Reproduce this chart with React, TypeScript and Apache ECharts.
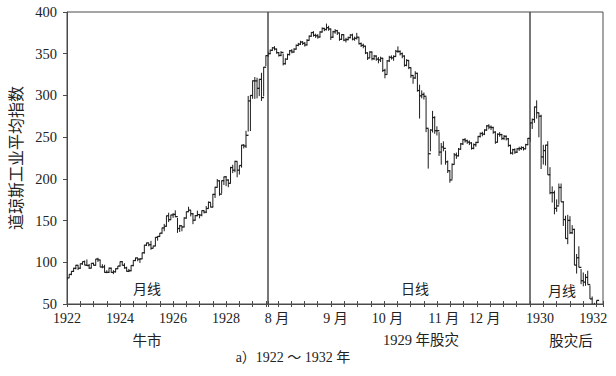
import React, { useEffect, useRef } from "react";
import * as echarts from "echarts";

// ---------- Monthly data, Jan 1922 – Jul 1929 (bull market) ----------
const leftStartYear = 1922;
const leftHigh = [
  82.0, 85.8, 89.5, 93.5, 96.9, 96.4, 98.6, 101.0, 102.1, 103.4, 98.0, 99.0,
  99.4, 104.0, 105.4, 103.0, 97.7, 97.0, 90.5, 93.7, 93.6, 90.5, 92.8, 95.6,
  101.0, 101.3, 98.9, 94.7, 92.1, 96.4, 102.4, 105.6, 105.0, 104.7, 111.7, 120.9,
  123.6, 122.9, 125.7, 120.0, 130.2, 131.3, 135.2, 141.6, 146.0, 156.0, 159.4, 157.0,
  158.9, 162.3, 153.1, 144.8, 143.3, 154.0, 160.9, 166.6, 162.5, 158.9, 156.6, 161.9,
  157.4, 162.2, 162.0, 167.4, 172.9, 171.0, 182.0, 190.6, 199.8, 198.3, 198.2, 202.8,
  203.4, 199.4, 214.5, 216.9, 221.7, 220.6, 216.4, 240.9, 241.7, 257.6, 299.4, 300.5,
  318.0, 322.1, 321.2, 319.8, 327.1, 334.2, 348.2,
];
const leftLow = [
  78.6, 81.7, 84.5, 88.5, 91.5, 90.7, 92.2, 97.0, 96.3, 95.5, 92.0, 92.9,
  96.0, 96.0, 100.5, 94.0, 92.8, 87.5, 86.9, 87.2, 87.4, 85.8, 87.9, 91.9,
  94.9, 96.0, 92.3, 88.7, 88.3, 89.2, 95.2, 101.5, 101.2, 99.2, 103.9, 110.4,
  119.5, 119.1, 115.0, 117.2, 119.3, 125.9, 130.8, 134.3, 137.2, 142.9, 148.2, 151.2,
  153.2, 154.0, 135.2, 136.3, 137.2, 141.9, 152.4, 160.4, 155.0, 145.7, 150.0, 155.3,
  152.7, 155.1, 158.5, 158.8, 164.4, 165.7, 165.8, 177.1, 189.8, 179.8, 182.5, 192.6,
  191.3, 190.0, 194.7, 206.9, 207.9, 201.9, 205.1, 213.4, 236.5, 237.0, 256.7, 257.3,
  296.0, 295.9, 296.5, 299.1, 293.4, 298.9, 335.2,
];
const leftClose = [
  81.3, 85.5, 89.1, 92.8, 96.4, 92.9, 98.2, 100.8, 96.6, 96.1, 93.0, 98.7,
  96.5, 103.9, 102.8, 94.4, 94.4, 87.9, 88.0, 92.9, 87.9, 88.6, 92.3, 95.5,
  100.7, 96.4, 93.3, 89.2, 89.9, 96.1, 102.1, 105.2, 103.7, 104.1, 111.4, 120.5,
  123.2, 121.0, 116.8, 119.5, 129.9, 131.0, 134.9, 141.2, 143.2, 155.7, 151.1, 156.7,
  157.4, 154.7, 140.5, 143.7, 142.3, 153.0, 160.6, 162.5, 158.2, 150.4, 155.9, 157.2,
  156.6, 161.9, 160.1, 164.5, 171.8, 166.2, 181.4, 189.8, 197.6, 181.7, 197.8, 202.4,
  198.6, 194.7, 213.5, 210.4, 220.9, 210.4, 216.0, 240.4, 239.4, 252.2, 293.4, 300.0,
  317.5, 317.4, 308.5, 319.3, 297.4, 333.8, 347.7,
];
const leftYearLabels = [1922, 1924, 1926, 1928];

// ---------- Daily data, Aug – Dec 1929 (trading days) ----------
const dailyHigh = [
  352.5, 355.0, 358.0, 359.0, 356.0, 352.0, 353.0, 350.0, 344.5, 350.0, 354.5, 355.5, 356.5, 361.0,
  363.0, 365.5, 365.0, 364.0, 367.5, 372.0, 376.0, 377.0, 374.0, 373.5, 377.0, 381.5, 381.0,
  386.1, 383.5, 380.0, 377.5, 379.5, 378.5, 375.0, 373.5, 373.0, 369.0, 370.5, 373.5, 374.0,
  370.5, 375.0, 369.5, 363.5, 362.0, 359.5, 351.5, 353.0, 352.5, 348.5, 348.0,
  346.0, 346.5, 345.0, 332.0, 342.5, 347.5, 348.0, 348.0, 354.5, 358.8, 354.0, 351.5, 348.0,
  343.5, 342.0, 333.0, 324.5, 329.0, 327.0, 312.8, 306.0, 303.5, 298.0, 260.0, 259.5, 281.5,
  275.0, 263.0, 256.0, 243.0, 245.0, 234.0, 222.0, 210.0, 218.5, 231.0, 231.5, 237.0, 243.0,
  248.0, 249.0, 247.0, 246.0, 244.0, 242.5,
  244.5, 251.5, 255.5, 256.5, 259.5, 264.5, 265.5, 264.0, 262.5, 257.0, 254.5, 256.0, 254.0,
  252.5, 252.0, 249.0, 241.0, 236.0, 236.5, 237.0, 238.5, 239.0, 238.5, 242.0, 249.0,
];
const dailyLow = [
  346.0, 349.5, 353.5, 354.0, 350.0, 346.5, 347.0, 336.0, 337.0, 343.0, 348.0, 350.5, 351.5, 355.0,
  359.0, 360.5, 360.5, 358.5, 360.0, 366.0, 370.5, 370.5, 369.0, 368.0, 369.5, 375.5, 377.0,
  378.0, 377.5, 366.5, 369.0, 374.0, 372.5, 365.5, 366.5, 365.0, 363.5, 366.0, 368.5, 366.0,
  365.5, 367.0, 361.0, 358.0, 356.5, 349.5, 342.5, 345.0, 342.0, 342.5, 341.5,
  338.5, 340.0, 328.0, 320.5, 326.0, 340.0, 343.0, 341.5, 346.5, 351.0, 348.0, 344.5, 334.5,
  335.0, 331.5, 321.0, 314.0, 320.0, 304.5, 272.3, 296.5, 295.0, 256.0, 212.3, 233.0, 255.5,
  254.0, 252.0, 227.5, 217.0, 233.0, 217.0, 207.0, 195.4, 199.5, 217.5, 224.0, 227.0, 235.0,
  240.5, 243.5, 242.0, 240.5, 235.0, 235.5,
  238.5, 243.0, 249.5, 251.0, 252.5, 257.5, 259.5, 258.5, 254.0, 242.0, 244.0, 250.5, 246.5,
  246.5, 246.0, 238.5, 229.5, 229.0, 230.0, 231.0, 233.5, 234.5, 234.0, 235.5, 240.5,
];
const dailyClose = [
  350.0, 354.1, 357.0, 355.6, 351.3, 348.0, 351.5, 338.0, 343.5, 349.0, 353.5, 352.0, 355.5, 360.0,
  361.5, 364.0, 362.5, 360.5, 366.0, 371.0, 375.4, 372.0, 371.5, 370.0, 376.0, 380.3, 379.0,
  381.2, 379.6, 369.8, 376.3, 377.6, 374.9, 367.3, 372.8, 366.3, 367.0, 369.3, 372.4, 367.5,
  368.5, 369.8, 362.1, 360.0, 359.0, 351.0, 344.9, 352.0, 344.0, 347.2, 343.5,
  342.6, 344.5, 330.0, 325.2, 341.4, 345.7, 345.0, 346.7, 352.9, 352.7, 350.0, 347.2, 336.1,
  341.9, 333.3, 323.9, 320.9, 326.5, 305.9, 299.5, 301.2, 299.0, 260.6, 230.1, 258.5, 273.5,
  257.7, 257.7, 232.1, 238.2, 236.5, 220.4, 209.7, 198.7, 217.3, 228.7, 227.6, 235.6, 241.9,
  247.0, 245.7, 244.0, 243.0, 236.6, 241.0,
  243.6, 250.8, 254.4, 253.6, 258.5, 263.5, 262.0, 261.5, 256.0, 243.9, 253.5, 253.0, 248.5,
  251.0, 248.0, 240.0, 230.9, 235.0, 232.0, 236.0, 236.4, 237.5, 236.0, 241.0, 248.5,
];
const monthStartIndex = [0, 27, 51, 77, 96];
const monthLabels = ["8 月", "9 月", "10 月", "11 月", "12 月"];

// ---------- Monthly data, Jan 1930 – Jul 1932 (after the crash) ----------
const rightStartYear = 1930;
const rightHigh = [
  267.7, 272.3, 286.6, 294.1, 279.2, 276.9, 240.8, 240.8, 245.1, 214.0, 191.0, 186.0,
  175.4, 194.4, 194.4, 173.2, 155.8, 156.9, 155.3, 144.5, 140.1, 109.9, 119.2, 92.0,
  87.8, 85.9, 89.9, 72.2, 59.0, 51.4, 54.3,
];
const rightLow = [
  244.2, 259.8, 267.1, 272.2, 249.8, 211.8, 217.2, 216.0, 204.9, 181.5, 171.6, 157.5,
  160.5, 169.1, 172.4, 143.6, 128.3, 121.7, 133.8, 133.8, 96.6, 86.5, 93.9, 73.8,
  71.2, 71.8, 73.3, 55.9, 44.7, 42.8, 41.2,
];
const rightClose = [
  267.1, 271.1, 286.1, 279.2, 275.1, 226.3, 233.9, 240.4, 204.9, 183.4, 183.4, 164.6,
  167.6, 189.7, 172.4, 151.2, 128.5, 150.2, 135.4, 139.4, 96.6, 105.4, 93.9, 77.9,
  76.2, 81.9, 73.3, 56.1, 44.7, 42.8, 54.3,
];
const rightYearLabels = [1930, 1932];

const yMin = 50;
const yMax = 400;
const yStep = 50;

const SERIF = "'Liberation Serif', 'Noto Sans CJK SC', serif";
const CJK = "'Noto Sans CJK SC', 'Liberation Serif', serif";
const INK = "#1c1c1c";
const FRAME = "#4a4a4a";

export default function App() {
  const ref = useRef<HTMLDivElement>(null);

  useEffect(() => {
    if (!ref.current) return;
    const chart = echarts.init(ref.current, null, { renderer: "svg" });

    const renderBar = (params: any, api: any) => {
      const x = api.value(0);
      const pH = api.coord([x, api.value(1)]);
      const pL = api.coord([x, api.value(2)]);
      const pC = api.coord([x, api.value(3)]);
      return {
        type: "group",
        children: [
          {
            type: "line",
            shape: { x1: pH[0], y1: pH[1], x2: pL[0], y2: pL[1] },
            style: { stroke: INK, lineWidth: 1 },
          },
          {
            type: "line",
            shape: { x1: pC[0], y1: pC[1], x2: pC[0] + 2.5, y2: pC[1] },
            style: { stroke: INK, lineWidth: 1.3 },
          },
        ],
      };
    };

    const leftData = leftClose.map((c, i) => [leftStartYear + i / 12, leftHigh[i], leftLow[i], c]);
    const dailyData = dailyClose.map((c, i) => [i, dailyHigh[i], dailyLow[i], c]);
    const rightData = rightClose.map((c, i) => [rightStartYear + i / 12, rightHigh[i], rightLow[i], c]);

    const dailyTicks: number[] = [];
    for (let k = 0; k < 19; k++) dailyTicks.push(4.6 + k * 6.125);

    const gridTop = 12;
    const gridHeight = 292;
    const grids = [
      { left: 67, width: 201 },
      { left: 268, width: 262 },
      { left: 530, width: 73 },
    ].map((g) => ({
      ...g,
      top: gridTop,
      height: gridHeight,
      show: true,
      borderColor: FRAME,
      borderWidth: 1,
      backgroundColor: "transparent",
    }));

    const labelStyle = { color: "#222", fontFamily: SERIF, fontSize: 14 };

    const outerAxis = (gridIndex: number, extra: any) => ({
      type: "value",
      gridIndex,
      position: "bottom",
      splitLine: { show: false },
      axisLine: { show: true, onZero: false, lineStyle: { color: FRAME, width: 1 } },
      axisTick: { show: true, inside: false, length: 3, lineStyle: { color: FRAME } },
      ...extra,
    });
    const innerAxis = (gridIndex: number, extra: any) => ({
      type: "value",
      gridIndex,
      position: "bottom",
      splitLine: { show: false },
      axisLine: { show: false },
      axisLabel: { show: false },
      ...extra,
    });

    const leftRange = { min: 1922, max: 1929.58, interval: 0.5 };
    const midRange = { min: 0, max: dailyClose.length };
    const rightRange = { min: 1930, max: 1932.74, interval: 0.5 };

    const option: any = {
      animation: false,
      grid: grids,
      xAxis: [
        outerAxis(0, {
          ...leftRange,
          axisLabel: {
            ...labelStyle,
            margin: 7,
            customValues: leftYearLabels,
            formatter: (v: number) => String(v),
          },
        }),
        innerAxis(0, {
          ...leftRange,
          axisTick: { show: true, inside: true, length: 3, lineStyle: { color: FRAME } },
        }),
        outerAxis(1, {
          ...midRange,
          axisTick: { show: true, inside: false, length: 3, customValues: dailyTicks, lineStyle: { color: FRAME } },
          axisLabel: {
            ...labelStyle,
            margin: 7,
            padding: [0, 0, 0, 18],
            customValues: monthStartIndex,
            formatter: (v: number) => monthLabels[monthStartIndex.indexOf(v)] ?? "",
          },
        }),
        innerAxis(1, {
          ...midRange,
          axisTick: { show: true, inside: true, length: 3, customValues: dailyTicks, lineStyle: { color: FRAME } },
        }),
        outerAxis(2, {
          ...rightRange,
          axisLabel: {
            ...labelStyle,
            margin: 7,
            padding: [0, 0, 0, 20],
            customValues: rightYearLabels,
            formatter: (v: number) => String(v),
          },
        }),
        innerAxis(2, {
          ...rightRange,
          axisTick: { show: true, inside: true, length: 3, lineStyle: { color: FRAME } },
        }),
      ],
      yAxis: [
        {
          type: "value",
          gridIndex: 0,
          min: yMin,
          max: yMax,
          interval: yStep,
          splitLine: { show: false },
          axisLine: { show: true, lineStyle: { color: FRAME } },
          axisTick: { show: true, inside: false, length: 4, lineStyle: { color: FRAME } },
          axisLabel: { color: "#222", fontFamily: SERIF, fontSize: 14.5, margin: 10 },
          name: "道琼斯工业平均指数",
          nameLocation: "middle",
          nameRotate: 90,
          nameGap: 44,
          nameTextStyle: { color: "#222", fontFamily: CJK, fontSize: 16 },
        },
        { type: "value", gridIndex: 1, min: yMin, max: yMax, interval: yStep, show: false },
        { type: "value", gridIndex: 2, min: yMin, max: yMax, interval: yStep, show: false },
      ],
      series: [
        { type: "custom", xAxisIndex: 0, yAxisIndex: 0, clip: true, renderItem: renderBar, encode: { x: 0, y: [1, 2, 3] }, data: leftData },
        { type: "custom", xAxisIndex: 2, yAxisIndex: 1, clip: true, renderItem: renderBar, encode: { x: 0, y: [1, 2, 3] }, data: dailyData },
        { type: "custom", xAxisIndex: 4, yAxisIndex: 2, clip: true, renderItem: renderBar, encode: { x: 0, y: [1, 2, 3] }, data: rightData },
      ],
      graphic: [
        { type: "text", x: 147, y: 288, style: { text: "月线", fontSize: 14, fontFamily: CJK, fill: "#222", align: "center", verticalAlign: "middle" } },
        { type: "text", x: 415, y: 288, style: { text: "日线", fontSize: 14, fontFamily: CJK, fill: "#222", align: "center", verticalAlign: "middle" } },
        { type: "text", x: 562, y: 290, style: { text: "月线", fontSize: 14, fontFamily: CJK, fill: "#222", align: "center", verticalAlign: "middle" } },
        { type: "text", x: 147, y: 339, style: { text: "牛市", fontSize: 14.5, fontFamily: CJK, fill: "#222", align: "center", verticalAlign: "middle" } },
        { type: "text", x: 421, y: 340, style: { text: "1929 年股灾", fontSize: 14.5, fontFamily: SERIF, fill: "#222", align: "center", verticalAlign: "middle" } },
        { type: "text", x: 571, y: 339, style: { text: "股灾后", fontSize: 14.5, fontFamily: CJK, fill: "#222", align: "center", verticalAlign: "middle" } },
        { type: "text", x: 293, y: 357, style: { text: "a）1922 ～ 1932 年", fontSize: 14, fontFamily: SERIF, fill: "#222", align: "center", verticalAlign: "middle" } },
      ],
    };

    chart.setOption(option);
    return () => chart.dispose();
  }, []);

  return <div ref={ref} style={{ position: "fixed", left: 0, top: 0, width: 616, height: 376, background: "#fff" }} />;
}
